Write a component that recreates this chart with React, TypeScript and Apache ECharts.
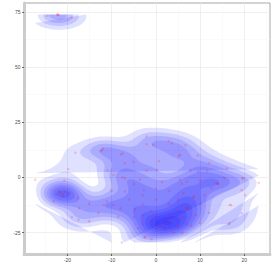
import React, { useEffect, useRef } from "react";
import * as echarts from "echarts";

// Points (x, y) (faint ones in dark areas estimated)
const pointX = [
  -22.2, -22.0, -22.3, -19.0, -24.5,
  -18.2, -12.2, -11.9, -12.4, -7.9, -7.5, -19.8, -10.9, -9.6, -7.6, -7.0, -5.1, -7.0,
  -27.29, -20.7,
  -2.1, -0.6, -2.1, 2.9, 3.6, 6.7, 9.5, 5.2, 5.5, 0.7, -2.1, 0.2, 7.8, 9.6, 11.6, 12.0, 16.0, 15.5, 14.0, 13.7, 14.2, -3.6, 1.4, 5.9, 5.5, 7.0, 10.0, 19.5, 19.8, 23.27,
  -22.0, -21.6, -21.0, -20.5, -17.6, -23.1, -15.1, -11.1, -17.3, -19.0, -17.5, -15.1, -11.8, -9.6, -22.5, -19.5, -21.0,
  -7.7, 20.2, 17.0, 16.7, 8.6, 8.5, 6.9, 7.1, 7.3, 10.0, 16.5, 16.7, 19.4, 19.4, 12.6, 2.1, 2.1, -2.6, -2.4, -1.2, -2.7, -4.7, -8.5, 6.2, -7.0,
  0.0, 2.0, 3.0, 4.0, 1.0, 5.0, -1.0, 3.0, 6.0, 4.0, 0.0, 7.0, -3.0, -3.0, 8.0, 5.0,
  -6.0, -3.0, 0.0, 3.0, 5.0, 10.0, 12.0, -5.0, -8.0, 9.0, -4.0, 6.0, -5.0, 0.0, 3.0, -10.0, -3.0, 11.0, -13.0, -1.0,
];
const pointY = [
  73.83, 73.6, 73.7, 72.5, 73.2,
  11.2, 12.5, 13.2, 12.0, 10.5, 10.9, 3.8, 3.1, 1.1, 0.0, -0.4, 7.1, 6.4,
  -1.0, -1.4,
  18.5, 14.7, 15.0, 16.5, 15.5, 14.6, 10.0, 9.7, 10.2, 7.5, 3.2, 3.4, 3.2, 2.6, 3.2, 6.5, 4.0, -0.2, -2.8, -2.6, -3.0, -1.0, -2.0, -2.8, -1.1, -1.9, -1.3, -0.5, -0.4, -2.4,
  -6.2, -6.6, -7.5, -6.5, -9.4, -10.8, -11.9, -10.8, -13.9, -17.9, -19.1, -19.8, -12.4, -12.4, -7.5, -7.0, -8.5,
  -29.49, -8.0, -12.6, -12.4, -8.8, -8.7, -13.8, -14.3, -13.9, -20.6, -21.2, -20.7, -16.2, -5.7, -4.9, -23.2, -23.3, -26.9, -27.2, -15.2, -5.8, -14.3, -17.7, -7.2, -6.4,
  -18.0, -20.0, -21.0, -19.0, -22.0, -22.0, -20.0, -17.0, -18.0, -25.0, -23.0, -21.0, -21.0, -17.0, -22.0, -15.0,
  -10.0, -12.0, -10.0, -12.0, -10.0, -12.0, -16.0, -18.0, -14.0, -17.0, -23.0, -25.0, -3.0, -5.0, -6.0, -6.0, -8.0, -8.0, -16.0, -28.0,
];

const xTickValues = [-20, -10, 0, 10, 20];
const xMinorValues = [-25, -15, -5, 5, 15, 25];
const yTickValues = [-25, 0, 25, 50, 75];
const yMinorValues = [-12.5, 12.5, 37.5, 62.5];

// kde2d bandwidths (h, as in MASS::kde2d; kernel sd = h / 4)
const KDE_H = [12.4, 14.8];
const GRID_N = 100;

function pretty(lo: number, up: number, n: number) {
  const h = 1.5, h5 = 0.5 + 1.5 * h;
  const cell = (up - lo) / n;
  const base = Math.pow(10, Math.floor(Math.log10(cell)));
  let unit = base;
  if (2 * base - cell < h * (cell - unit)) {
    unit = 2 * base;
    if (5 * base - cell < h5 * (cell - unit)) {
      unit = 5 * base;
      if (10 * base - cell < h * (cell - unit)) unit = 10 * base;
    }
  }
  const ns = Math.floor(lo / unit + 1e-7);
  const nu = Math.ceil(up / unit - 1e-7);
  const out: number[] = [];
  for (let k = ns; k <= nu; k++) out.push(k * unit);
  return out;
}
function dnorm(v: number) {
  return Math.exp(-0.5 * v * v) / Math.sqrt(2 * Math.PI);
}

function isolines(gx: number[], gy: number[], z: Float64Array, L: number) {
  const nx = gx.length, ny = gy.length;
  const Z = (i: number, j: number) => z[i * ny + j];
  const hId = (i: number, j: number) => (i * ny + j) * 2;
  const vId = (i: number, j: number) => (i * ny + j) * 2 + 1;
  const pos = new Map<number, number[]>();
  const edgePt = (id: number) => {
    if (pos.has(id)) return;
    const k = Math.floor(id / 2);
    const i = Math.floor(k / ny), j = k % ny;
    if (id % 2 === 0) {
      const a = Z(i, j), b = Z(i + 1, j);
      const t = (L - a) / (b - a);
      pos.set(id, [gx[i] + t * (gx[i + 1] - gx[i]), gy[j]]);
    } else {
      const a = Z(i, j), b = Z(i, j + 1);
      const t = (L - a) / (b - a);
      pos.set(id, [gx[i], gy[j] + t * (gy[j + 1] - gy[j])]);
    }
  };
  const segs: number[][] = [];
  for (let i = 0; i < nx - 1; i++) {
    for (let j = 0; j < ny - 1; j++) {
      const v0 = Z(i, j), v1 = Z(i + 1, j), v2 = Z(i + 1, j + 1), v3 = Z(i, j + 1);
      const b0 = v0 >= L, b1 = v1 >= L, b2 = v2 >= L, b3 = v3 >= L;
      const B = hId(i, j), R = vId(i + 1, j), T = hId(i, j + 1), Lf = vId(i, j);
      const cr: number[] = [];
      if (b0 !== b1) cr.push(B);
      if (b1 !== b2) cr.push(R);
      if (b2 !== b3) cr.push(T);
      if (b3 !== b0) cr.push(Lf);
      if (cr.length === 2) segs.push([cr[0], cr[1]]);
      else if (cr.length === 4) {
        const c = (v0 + v1 + v2 + v3) / 4 >= L;
        if (c === b0) {
          segs.push([B, R]);
          segs.push([T, Lf]);
        } else {
          segs.push([B, Lf]);
          segs.push([R, T]);
        }
      }
    }
  }
  const adj = new Map<number, number[]>();
  segs.forEach((s, idx) => {
    for (const e of s) {
      edgePt(e);
      if (!adj.has(e)) adj.set(e, []);
      adj.get(e)!.push(idx);
    }
  });
  const used = new Uint8Array(segs.length);
  const lines: number[][][] = [];
  const walk = (startSeg: number, startEdge: number) => {
    const line: number[][] = [pos.get(startEdge)!];
    let s = startSeg, e = startEdge;
    while (s !== -1 && !used[s]) {
      used[s] = 1;
      const other = segs[s][0] === e ? segs[s][1] : segs[s][0];
      line.push(pos.get(other)!);
      e = other;
      const nb = adj.get(e)!.find((x) => !used[x]);
      s = nb === undefined ? -1 : nb;
    }
    return line;
  };
  adj.forEach((list, e) => {
    if (list.length === 1 && !used[list[0]]) lines.push(walk(list[0], e));
  });
  segs.forEach((s, idx) => {
    if (!used[idx]) lines.push(walk(idx, s[0]));
  });
  return lines;
}

function densityPolygons() {
  const n = pointX.length;
  const xmin = Math.min(...pointX), xmax = Math.max(...pointX);
  const ymin = Math.min(...pointY), ymax = Math.max(...pointY);
  const hx = KDE_H[0] / 4, hy = KDE_H[1] / 4;
  const gx: number[] = [], gy: number[] = [];
  for (let i = 0; i < GRID_N; i++) {
    gx.push(xmin + (i * (xmax - xmin)) / (GRID_N - 1));
    gy.push(ymin + (i * (ymax - ymin)) / (GRID_N - 1));
  }
  const ax = gx.map((g) => pointX.map((x) => dnorm((g - x) / hx)));
  const ay = gy.map((g) => pointY.map((y) => dnorm((g - y) / hy)));
  const z = new Float64Array(GRID_N * GRID_N);
  let zmin = Infinity, zmax = -Infinity;
  for (let i = 0; i < GRID_N; i++) {
    for (let j = 0; j < GRID_N; j++) {
      let s = 0;
      for (let k = 0; k < n; k++) s += ax[i][k] * ay[j][k];
      s /= n * hx * hy;
      z[i * GRID_N + j] = s;
      if (s < zmin) zmin = s;
      if (s > zmax) zmax = s;
    }
  }
  const levels = pretty(zmin, zmax, 10);
  const polys: number[][][] = [];
  for (const L of levels) {
    if (L <= zmin || L >= zmax) continue;
    for (const line of isolines(gx, gy, z, L)) if (line.length > 2) polys.push(line);
  }
  return { polys, xmin, xmax, ymin, ymax };
}

export default function App() {
  const ref = useRef<HTMLDivElement>(null);
  useEffect(() => {
    if (!ref.current) return;
    const chart = echarts.init(ref.current, undefined, { renderer: "svg" });
    const { polys, xmin, xmax, ymin, ymax } = densityPolygons();
    const xLo = xmin - 0.05 * (xmax - xmin), xHi = xmax + 0.05 * (xmax - xmin);
    const yLo = ymin - 0.05 * (ymax - ymin), yHi = ymax + 0.05 * (ymax - ymin);
    const font = "Liberation Sans, Arial, sans-serif";
    const majorX = {
      type: "value", min: xLo, max: xHi, gridIndex: 0,
      axisLine: { show: true, onZero: false, lineStyle: { color: "#cccccc", width: 3 } },
      axisTick: { show: true, customValues: xTickValues, length: 2, lineStyle: { color: "#333333", width: 0.7 } },
      axisLabel: { show: true, customValues: xTickValues, fontSize: 5, color: "#4d4d4d", margin: 3.5, fontFamily: font },
      splitLine: { show: true, lineStyle: { color: "#ebebeb", width: 0.8 } },
    };
    const minorX = {
      type: "value", min: xLo, max: xHi, gridIndex: 0, position: "bottom",
      axisLine: { show: false }, axisTick: { show: false, customValues: xMinorValues },
      axisLabel: { show: false, customValues: xMinorValues },
      splitLine: { show: true, lineStyle: { color: "#f4f4f4", width: 0.5 } },
    };
    const majorY = {
      type: "value", min: yLo, max: yHi, gridIndex: 0,
      axisLine: { show: true, onZero: false, lineStyle: { color: "#cccccc", width: 3 } },
      axisTick: { show: true, customValues: yTickValues, length: 2, lineStyle: { color: "#333333", width: 0.7 } },
      axisLabel: { show: true, customValues: yTickValues, fontSize: 5, color: "#4d4d4d", margin: 3.5, fontFamily: font },
      splitLine: { show: true, lineStyle: { color: "#ebebeb", width: 0.8 } },
    };
    const minorY = {
      type: "value", min: yLo, max: yHi, gridIndex: 0, position: "left",
      axisLine: { show: false }, axisTick: { show: false, customValues: yMinorValues },
      axisLabel: { show: false, customValues: yMinorValues },
      splitLine: { show: true, lineStyle: { color: "#f4f4f4", width: 0.5 } },
    };
    chart.setOption({
      animation: false,
      backgroundColor: "#ffffff",
      grid: { left: 24, top: 3, width: 246, height: 251, show: true, borderColor: "#a6a6a6", borderWidth: 1, backgroundColor: "transparent" },
      xAxis: [majorX, minorX],
      yAxis: [majorY, minorY],
      series: [
        {
          type: "custom",
          xAxisIndex: 0,
          yAxisIndex: 0,
          data: polys.map((p, i) => [p[0][0], p[0][1], i]),
          encode: { x: 0, y: 1 },
          renderItem: (params: any, api: any) => {
            const poly = polys[params.dataIndex];
            return {
              type: "polygon",
              shape: { points: poly.map((pt) => api.coord(pt)) },
              style: { fill: "rgba(0,0,255,0.12)", stroke: null, lineWidth: 0 },
            };
          },
        },
        {
          type: "scatter",
          xAxisIndex: 0,
          yAxisIndex: 0,
          symbolSize: 2.5,
          data: pointX.map((x, i) => [x, pointY[i]]),
          itemStyle: { color: "rgba(255,20,20,0.25)" },
        },
      ],
    });
    return () => chart.dispose();
  }, []);
  return <div ref={ref} style={{ position: "fixed", left: 0, top: 0, width: 274, height: 274, background: "#fff" }} />;
}
